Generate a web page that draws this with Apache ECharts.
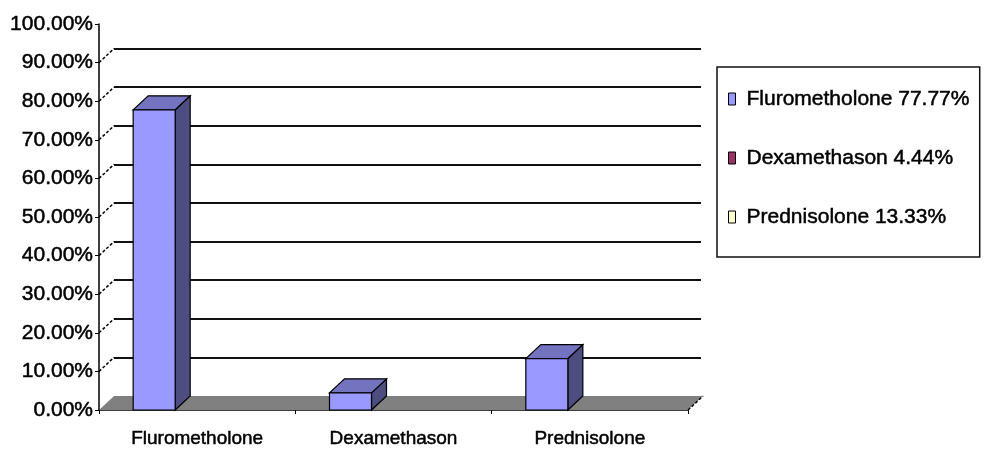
<!DOCTYPE html>
<html>
<head>
<meta charset="utf-8">
<script src="https://cdn.jsdelivr.net/npm/echarts@6/dist/echarts.min.js"></script>
<style>
  html, body { margin: 0; padding: 0; background: #fff; }
  #main { width: 984px; height: 457px; }
</style>
</head>
<body>
<div id="main"></div>
<script>
var categories = ['Flurometholone', 'Dexamethason', 'Prednisolone'];
var values = [77.77, 4.44, 13.33];
var legendLabels = ['Flurometholone 77.77%', 'Dexamethason 4.44%', 'Prednisolone 13.33%'];
var legendColors = ['#9999FF', '#993366', '#FFFFCC'];
var wallTicks = [10, 20, 30, 40, 50, 60, 70, 80, 90];

// depth of the fake 3D (pixels)
var DX = 15, DY = 14;
var font = 'Arial, "Liberation Sans", sans-serif';
// heavier text, like the blurry original
var heavy = { textBorderColor: '#000', textBorderWidth: 0.5 };

var myChart = echarts.init(document.getElementById('main'));

function renderBar(params, api) {
    var i = api.value(0), v = api.value(1);
    var base = api.coord([i, 0]);
    var top = api.coord([i, v]);
    var bw = api.size([1, 0])[0];
    var x0 = base[0] - bw * 0.326;
    var w = bw * 0.214;
    var ty = top[1], by = base[1];
    var line = { stroke: '#000', lineWidth: 1.2 };
    return {
        type: 'group',
        children: [
            { type: 'polygon', shape: { points: [[x0 + w, ty], [x0 + w + DX, ty - DY], [x0 + w + DX, by - DY], [x0 + w, by]] },
              style: Object.assign({ fill: '#4D4D80' }, line) },
            { type: 'polygon', shape: { points: [[x0, ty], [x0 + w, ty], [x0 + w + DX, ty - DY], [x0 + DX, ty - DY]] },
              style: Object.assign({ fill: '#7373BF' }, line) },
            { type: 'rect', shape: { x: x0, y: ty, width: w, height: by - ty },
              style: Object.assign({ fill: '#9999FF' }, line) }
        ]
    };
}

function renderFloor(params, api) {
    var cs = params.coordSys;
    var y = cs.y + cs.height, x = cs.x, r = cs.x + cs.width;
    return {
        type: 'group',
        children: [
            { type: 'polygon', shape: { points: [[x, y], [r, y], [r + DX, y - DY], [x + DX, y - DY]] },
              style: { fill: '#808080', stroke: 'none' } },
            { type: 'line', shape: { x1: r, y1: y, x2: r + DX, y2: y - DY },
              style: { stroke: '#000', lineWidth: 1.5, lineDash: [3, 2] } }
        ]
    };
}

function renderConnector(params, api) {
    var p = api.coord([0, api.value(0)]);
    var x = params.coordSys.x;
    return {
        type: 'line',
        shape: { x1: x, y1: p[1], x2: x + DX, y2: p[1] - DY },
        style: { stroke: '#000', lineWidth: 1.5, lineDash: [3, 2] }
    };
}

myChart.setOption({
    animation: false,
    color: legendColors,
    legend: {
        orient: 'vertical',
        left: 717,
        top: 67,
        data: legendLabels,
        icon: 'rect',
        itemWidth: 7,
        itemHeight: 12,
        itemGap: 35,
        padding: [20, 10, 28, 11],
        borderColor: '#111',
        borderWidth: 1.5,
        borderRadius: 0,
        itemStyle: { borderColor: '#000', borderWidth: 1 },
        textStyle: Object.assign({ fontFamily: font, fontSize: 21, color: '#000', lineHeight: 24, padding: [0, 0, 0, 6] }, heavy),
        selectedMode: false
    },
    grid: [
        { left: 99, right: 296, top: 24, bottom: 47 },
        { left: 114, right: 283, top: 10, bottom: 61 }
    ],
    xAxis: [
        {
            type: 'category',
            gridIndex: 0,
            data: categories,
            axisLine: { show: true, lineStyle: { color: '#000', width: 1.5 } },
            axisTick: { show: true, length: 4, lineStyle: { color: '#000' } },
            axisLabel: Object.assign({ color: '#000', fontFamily: font, fontSize: 19, margin: 19, interval: 0 }, heavy),
            splitLine: { show: false }
        },
        {
            type: 'value',
            gridIndex: 1,
            show: false
        }
    ],
    yAxis: [
        {
            type: 'value',
            gridIndex: 0,
            min: 0,
            max: 100,
            interval: 10,
            axisLine: { show: true, lineStyle: { color: '#000', width: 1.5 } },
            axisTick: { show: true, length: 4, lineStyle: { color: '#000' } },
            axisLabel: Object.assign({
                color: '#000', fontFamily: font, fontSize: 21, margin: 6,
                formatter: function (v) { return v.toFixed(2) + '%'; }
            }, heavy),
            splitLine: { show: false }
        },
        {
            type: 'value',
            gridIndex: 1,
            min: 0,
            max: 100,
            interval: 10,
            axisLine: { show: false },
            axisTick: { show: false },
            axisLabel: { show: false },
            splitLine: { show: true, showMinLine: false, showMaxLine: false, lineStyle: { color: '#111', width: 1.8 } }
        }
    ],
    series: [
        {
            type: 'custom',
            name: 'floor',
            xAxisIndex: 0,
            yAxisIndex: 0,
            renderItem: renderFloor,
            data: [[0, 0]],
            silent: true,
            z: 1
        },
        {
            type: 'custom',
            name: 'connectors',
            xAxisIndex: 0,
            yAxisIndex: 0,
            renderItem: renderConnector,
            encode: { y: 0 },
            data: wallTicks.map(function (t) { return [t]; }),
            silent: true,
            z: 1
        },
        {
            type: 'custom',
            name: legendLabels[0],
            xAxisIndex: 0,
            yAxisIndex: 0,
            itemStyle: { color: legendColors[0] },
            renderItem: renderBar,
            encode: { x: 0, y: 1 },
            data: values.map(function (v, i) { return [i, v]; }),
            z: 3
        },
        { type: 'bar', name: legendLabels[1], xAxisIndex: 0, yAxisIndex: 0, data: [], itemStyle: { color: legendColors[1] } },
        { type: 'bar', name: legendLabels[2], xAxisIndex: 0, yAxisIndex: 0, data: [], itemStyle: { color: legendColors[2] } }
    ]
});
</script>
</body>
</html>
